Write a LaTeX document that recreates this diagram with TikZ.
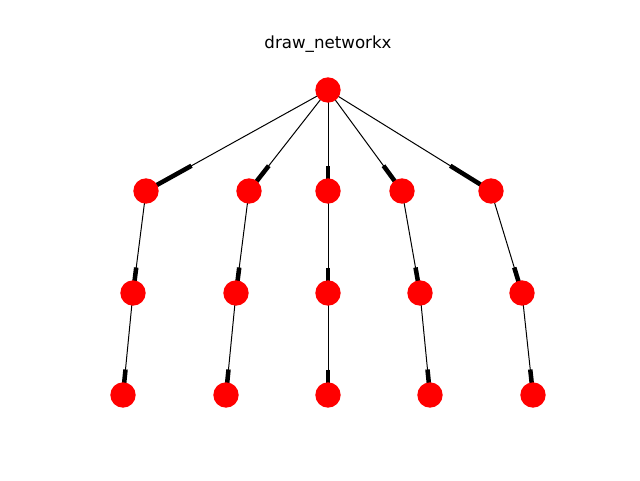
\documentclass[tikz,border=0pt]{standalone}
\usepackage{fontspec}
\setmainfont{DejaVu Sans}
\usetikzlibrary{calc,backgrounds}
\begin{document}
\begin{tikzpicture}[x=0.75pt,y=-0.75pt,
  vertex/.style={circle,fill=red,draw=none,minimum size=19pt,inner sep=0pt},
  link/.style={draw=black,line width=0.75pt},
  head/.style={draw=black,line width=3.4pt}]
\useasboundingbox (0,0) rectangle (640,480);
\node[font=\fontsize{12.5}{15}\selectfont] (title) at (328,44) {draw\_networkx};
% tree nodes
\node[vertex] (r) at (328,90) {};
\node[vertex] (a1) at (146,191) {};
\node[vertex] (a2) at (249,191) {};
\node[vertex] (a3) at (328,191) {};
\node[vertex] (a4) at (402,191) {};
\node[vertex] (a5) at (491,191) {};
\node[vertex] (b1) at (133,293) {};
\node[vertex] (b2) at (236,293) {};
\node[vertex] (b3) at (328,293) {};
\node[vertex] (b4) at (420,293) {};
\node[vertex] (b5) at (522,293) {};
\node[vertex] (c1) at (123,395) {};
\node[vertex] (c2) at (226,395) {};
\node[vertex] (c3) at (328,395) {};
\node[vertex] (c4) at (430,395) {};
\node[vertex] (c5) at (533,395) {};
% directed edges: thin line plus a thick stub over the last quarter
\begin{pgfonlayer}{background}
\foreach \s/\t in {r/a1,r/a2,r/a3,r/a4,r/a5,
                   a1/b1,a2/b2,a3/b3,a4/b4,a5/b5,
                   b1/c1,b2/c2,b3/c3,b4/c4,b5/c5}{
  \draw[link] (\s.center) -- (\t.center);
  \draw[head] ($(\s.center)!0.75!(\t.center)$) -- (\t.center);
}
\end{pgfonlayer}
\end{tikzpicture}
\end{document}
